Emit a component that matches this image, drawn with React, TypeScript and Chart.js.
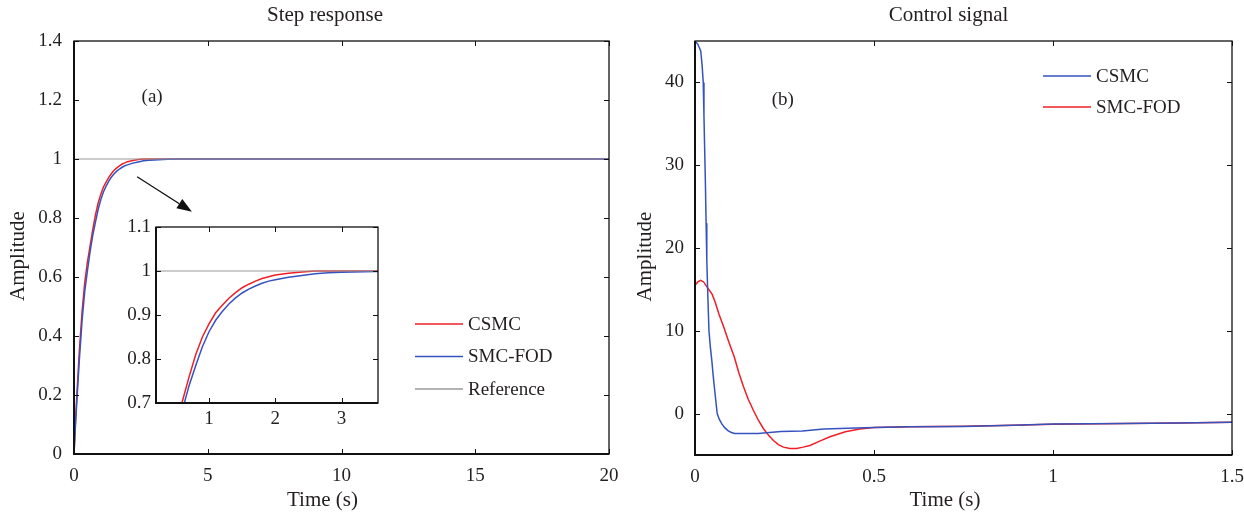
import React, { useEffect, useRef } from "react";
import { Chart, registerables } from "chart.js";
Chart.register(...registerables);

// ---------- Data ----------
const STEP_TIME = [0, 0.05, 0.1, 0.2, 0.3, 0.4, 0.5, 0.6, 0.7, 0.8, 0.9, 1.0, 1.1, 1.2, 1.3, 1.4, 1.5, 1.6, 1.7, 1.8, 1.9, 2.0, 2.2, 2.4, 2.6, 2.8, 3.0, 3.5, 4, 6, 10, 15, 20];
const STEP_CSMC = [0, 0.1, 0.19, 0.35, 0.48, 0.58, 0.65, 0.705, 0.76, 0.81, 0.85, 0.88, 0.905, 0.922, 0.938, 0.951, 0.962, 0.97, 0.977, 0.983, 0.987, 0.991, 0.995, 0.998, 1.0, 1.0, 1.0, 1.0, 1.0, 1.0, 1.0, 1.0, 1.0];
const STEP_SMCFOD = [0, 0.09, 0.17, 0.32, 0.45, 0.55, 0.62, 0.685, 0.74, 0.785, 0.828, 0.862, 0.888, 0.908, 0.925, 0.939, 0.95, 0.959, 0.966, 0.972, 0.977, 0.98, 0.986, 0.99, 0.994, 0.996, 0.997, 0.999, 1.0, 1.0, 1.0, 1.0, 1.0];
const REF_TIME = [0, 20];
const REF_VALUE = [1, 1];

const STEP_X_TICKS = [0, 5, 10, 15, 20];
const STEP_Y_TICKS = [0, 0.2, 0.4, 0.6, 0.8, 1, 1.2, 1.4];
const INSET_X_TICKS = [1, 2, 3];
const INSET_Y_TICKS = [0.7, 0.8, 0.9, 1, 1.1];

const CTRL_TIME_CSMC = [0, 0.008, 0.016, 0.02, 0.023, 0.025, 0.027, 0.029, 0.031, 0.033, 0.036, 0.039, 0.043, 0.047, 0.051, 0.056, 0.062, 0.068, 0.075, 0.083, 0.092, 0.1, 0.11, 0.176, 0.2, 0.24, 0.3, 0.36, 0.45, 0.5, 0.6, 0.75, 0.89, 1.0, 1.2, 1.35, 1.5];
const CTRL_CSMC = [45, 44.6, 43.8, 42, 40, 36, 32, 28, 23, 18.5, 14, 10, 8, 6.4, 4.5, 2.4, 0, -0.7, -1.25, -1.7, -2.05, -2.25, -2.4, -2.4, -2.3, -2.15, -2.1, -1.85, -1.75, -1.68, -1.6, -1.55, -1.4, -1.25, -1.2, -1.15, -1.05];
const CTRL_TIME_SMCFOD = [0, 0.008, 0.016, 0.024, 0.032, 0.04, 0.048, 0.056, 0.067, 0.08, 0.095, 0.11, 0.122, 0.135, 0.149, 0.163, 0.177, 0.191, 0.205, 0.219, 0.233, 0.247, 0.265, 0.284, 0.302, 0.321, 0.35, 0.377, 0.42, 0.46, 0.5, 0.6, 0.75, 0.89, 1.0, 1.2, 1.35, 1.5];
const CTRL_SMCFOD = [15.5, 15.9, 16.1, 15.9, 15.4, 14.9, 14.4, 13.5, 12.0, 10.5, 8.6, 6.8, 5.0, 3.3, 1.7, 0.4, -0.8, -1.8, -2.6, -3.25, -3.75, -4.05, -4.2, -4.2, -4.05, -3.85, -3.3, -2.8, -2.2, -1.85, -1.68, -1.6, -1.52, -1.4, -1.3, -1.2, -1.15, -1.05];

const CTRL_X_TICKS = [0, 0.5, 1, 1.5];
const CTRL_Y_TICKS = [0, 10, 20, 30, 40];

const RED = "#ee1f26";
const BLUE = "#3553bf";
const GRAY = "#9a9a9a";
const FONT_FAMILY = "'Liberation Serif', 'Times New Roman', serif";
const TEXT = "#231f20";
const FS = 19;
const FS_TITLE = 21;

// ---------- helpers ----------
const fmt = (v: number) => String(Math.round(v * 1000) / 1000);
const pts = (xs: number[], ys: number[]) => xs.map((x, i) => ({ x, y: ys[i] }));

const framePlugin = {
  id: "matFrame",
  afterDatasetsDraw(chart: any, _a: any, opts: any) {
    const { ctx, chartArea, scales } = chart;
    const { left, right, top, bottom } = chartArea;
    const tl = opts.tickLen ?? 5;
    ctx.save();
    ctx.strokeStyle = "#111";
    ctx.lineWidth = 1;
    ctx.beginPath();
    scales.x.ticks.forEach((t: any) => {
      const px = Math.round(scales.x.getPixelForValue(t.value)) + 0.5;
      ctx.moveTo(px, bottom);
      ctx.lineTo(px, bottom - tl);
      ctx.moveTo(px, top);
      ctx.lineTo(px, top + tl);
    });
    scales.y.ticks.forEach((t: any) => {
      const py = Math.round(scales.y.getPixelForValue(t.value)) + 0.5;
      ctx.moveTo(left, py);
      ctx.lineTo(left + tl, py);
      ctx.moveTo(right, py);
      ctx.lineTo(right - tl, py);
    });
    ctx.stroke();
    ctx.lineWidth = 1.3;
    ctx.strokeRect(left, top, right - left, bottom - top);
    ctx.lineWidth = 2;
    ctx.beginPath();
    ctx.moveTo(left, top);
    ctx.lineTo(left, bottom);
    ctx.lineTo(right, bottom);
    ctx.stroke();
    ctx.restore();
  },
};

const legendPlugin = {
  id: "matLegend",
  afterDraw(chart: any, _a: any, opts: any) {
    if (!opts || !opts.items) return;
    const { ctx, chartArea } = chart;
    ctx.save();
    ctx.font = `${opts.fontSize}px ${FONT_FAMILY}`;
    ctx.textBaseline = "middle";
    ctx.fillStyle = TEXT;
    opts.items.forEach((idx: number, i: number) => {
      const ds = chart.data.datasets[idx];
      const y = chartArea.top + opts.y + i * opts.gap;
      const x = chartArea.left + opts.x;
      ctx.strokeStyle = ds.borderColor;
      ctx.lineWidth = 1.5;
      ctx.beginPath();
      ctx.moveTo(x, y);
      ctx.lineTo(x + opts.lineLen, y);
      ctx.stroke();
      ctx.fillText(ds.label, x + opts.lineLen + 5, y + 1);
    });
    ctx.restore();
  },
};

// chart title and axis titles, placed relative to the plot area
const titlesPlugin = {
  id: "matTitles",
  afterDraw(chart: any, _a: any, opts: any) {
    if (!opts) return;
    const { ctx, chartArea } = chart;
    const cx = (chartArea.left + chartArea.right) / 2;
    const cy = (chartArea.top + chartArea.bottom) / 2;
    ctx.save();
    ctx.font = `${opts.fontSize}px ${FONT_FAMILY}`;
    ctx.fillStyle = TEXT;
    ctx.textAlign = "center";
    ctx.textBaseline = "middle";
    if (opts.title) ctx.fillText(opts.title.text, cx + opts.title.dx, opts.title.y);
    if (opts.xTitle) ctx.fillText(opts.xTitle.text, cx + opts.xTitle.dx, opts.xTitle.y);
    if (opts.yTitle) {
      ctx.translate(opts.yTitle.x, cy + opts.yTitle.dy);
      ctx.rotate(-Math.PI / 2);
      ctx.fillText(opts.yTitle.text, 0, 0);
    }
    ctx.restore();
  },
};

const notesPlugin = {
  id: "matNotes",
  afterDraw(chart: any, _a: any, opts: any) {
    if (!opts) return;
    const { ctx, scales } = chart;
    ctx.save();
    ctx.font = `${opts.fontSize}px ${FONT_FAMILY}`;
    ctx.fillStyle = TEXT;
    ctx.textAlign = "center";
    ctx.textBaseline = "middle";
    (opts.texts || []).forEach((t: any) => {
      ctx.fillText(t.text, scales.x.getPixelForValue(t.x), scales.y.getPixelForValue(t.y));
    });
    if (opts.arrow) {
      const [fx, fy] = opts.arrow.from;
      const [tx, ty] = opts.arrow.to;
      const x1 = scales.x.getPixelForValue(fx), y1 = scales.y.getPixelForValue(fy);
      const x2 = scales.x.getPixelForValue(tx), y2 = scales.y.getPixelForValue(ty);
      const ang = Math.atan2(y2 - y1, x2 - x1);
      const hl = 15, hw = 5.5;
      const bx = x2 - hl * Math.cos(ang), by = y2 - hl * Math.sin(ang);
      ctx.strokeStyle = "#111";
      ctx.fillStyle = "#111";
      ctx.lineWidth = 1.3;
      ctx.beginPath();
      ctx.moveTo(x1, y1);
      ctx.lineTo(bx, by);
      ctx.stroke();
      ctx.beginPath();
      ctx.moveTo(x2, y2);
      ctx.lineTo(bx + hw * Math.sin(ang), by - hw * Math.cos(ang));
      ctx.lineTo(bx - hw * Math.sin(ang), by + hw * Math.cos(ang));
      ctx.closePath();
      ctx.fill();
    }
    ctx.restore();
  },
};

type Cfg = {
  datasets: any[];
  xMin: number; xMax: number; yMin: number; yMax: number;
  xTicks: number[]; yTicks: number[];
  yAxisWidth: number; xAxisHeight: number;
  padding: { top: number; right: number; bottom: number; left: number };
  yTickPad: number; xTickPad: number;
  titles?: any; legend?: any; notes?: any;
};

function buildConfig(c: Cfg): any {
  const font = { family: FONT_FAMILY, size: FS };
  return {
    type: "line",
    data: { datasets: c.datasets },
    options: {
      responsive: false,
      animation: false,
      devicePixelRatio: 1,
      layout: { padding: c.padding },
      elements: { point: { radius: 0 }, line: { tension: 0 } },
      plugins: {
        legend: { display: false },
        tooltip: { enabled: false },
        title: { display: false },
        matFrame: { tickLen: 5 },
        matLegend: c.legend || null,
        matNotes: c.notes || null,
        matTitles: c.titles || null,
      },
      scales: {
        x: {
          type: "linear",
          min: c.xMin,
          max: c.xMax,
          afterBuildTicks: (s: any) => { s.ticks = c.xTicks.map((v) => ({ value: v })); },
          afterFit: (s: any) => {
            s.height = c.xAxisHeight;
            s.paddingLeft = 0;
            s.paddingRight = 0;
          },
          ticks: { callback: (v: any) => fmt(v), padding: c.xTickPad, font, color: TEXT, maxRotation: 0, autoSkip: false },
          grid: { display: false, drawTicks: false },
          border: { display: false },
        },
        y: {
          type: "linear",
          min: c.yMin,
          max: c.yMax,
          afterBuildTicks: (s: any) => { s.ticks = c.yTicks.map((v) => ({ value: v })); },
          afterFit: (s: any) => {
            s.width = c.yAxisWidth;
            s.paddingTop = 0;
            s.paddingBottom = 0;
          },
          ticks: { callback: (v: any) => fmt(v), padding: c.yTickPad, font, color: TEXT, autoSkip: false },
          grid: { display: false, drawTicks: false },
          border: { display: false },
        },
      },
    },
    plugins: [framePlugin, legendPlugin, notesPlugin, titlesPlugin],
  };
}

function ChartCanvas({ cfg, left, top, width, height }: { cfg: Cfg; left: number; top: number; width: number; height: number }) {
  const ref = useRef<HTMLCanvasElement>(null);
  useEffect(() => {
    if (!ref.current) return;
    const chart = new Chart(ref.current, buildConfig(cfg));
    return () => chart.destroy();
  }, []);
  return (
    <canvas
      ref={ref}
      width={width}
      height={height}
      style={{ position: "absolute", left, top, width, height }}
    />
  );
}

const lineDs = (label: string, color: string, data: any[], width = 1.5) => ({
  label,
  data,
  borderColor: color,
  backgroundColor: color,
  borderWidth: width,
  pointRadius: 0,
  fill: false,
});

export default function App() {
  const stepDatasets = [
    lineDs("Reference", GRAY, pts(REF_TIME, REF_VALUE), 1.2),
    lineDs("SMC-FOD", BLUE, pts(STEP_TIME, STEP_SMCFOD)),
    lineDs("CSMC", RED, pts(STEP_TIME, STEP_CSMC)),
  ];
  const insetDatasets = [
    lineDs("Reference", GRAY, pts(REF_TIME, REF_VALUE), 1.2),
    lineDs("SMC-FOD", BLUE, pts(STEP_TIME, STEP_SMCFOD)),
    lineDs("CSMC", RED, pts(STEP_TIME, STEP_CSMC)),
  ];
  const ctrlDatasets = [
    lineDs("CSMC", BLUE, pts(CTRL_TIME_CSMC, CTRL_CSMC)),
    lineDs("SMC-FOD", RED, pts(CTRL_TIME_SMCFOD, CTRL_SMCFOD)),
  ];

  const leftCfg: Cfg = {
    datasets: stepDatasets,
    xMin: 0, xMax: 20, yMin: 0, yMax: 1.4,
    xTicks: STEP_X_TICKS, yTicks: STEP_Y_TICKS,
    yAxisWidth: 74, xAxisHeight: 63,
    padding: { top: 41, right: 11, bottom: 0, left: 0 },
    yTickPad: 12, xTickPad: 10.5,
    titles: {
      fontSize: FS_TITLE,
      title: { text: "Step response", dx: -16.5, y: 15 },
      xTitle: { text: "Time (s)", dx: -19, y: 500 },
      yTitle: { text: "Amplitude", x: 18, dy: 8.5 },
    },
    legend: { items: [2, 1, 0], x: 341, y: 283, gap: 32.5, lineLen: 48, fontSize: FS },
    notes: { fontSize: FS, texts: [{ text: "(a)", x: 2.92, y: 1.21 }], arrow: { from: [2.36, 0.94], to: [4.41, 0.821] } },
  };

  const insetCfg: Cfg = {
    datasets: insetDatasets,
    xMin: 0.2, xMax: 3.55, yMin: 0.7, yMax: 1.1,
    xTicks: INSET_X_TICKS, yTicks: INSET_Y_TICKS,
    yAxisWidth: 40, xAxisHeight: 32,
    padding: { top: 14, right: 8, bottom: 0, left: 0 },
    yTickPad: 5, xTickPad: 5,
  };

  const rightCfg: Cfg = {
    datasets: ctrlDatasets,
    xMin: 0, xMax: 1.5, yMin: -5, yMax: 45,
    xTicks: CTRL_X_TICKS, yTicks: CTRL_Y_TICKS,
    yAxisWidth: 75, xAxisHeight: 62,
    padding: { top: 41, right: 12, bottom: 0, left: 0 },
    yTickPad: 11, xTickPad: 10.5,
    titles: {
      fontSize: FS_TITLE,
      title: { text: "Control signal", dx: -15, y: 15 },
      xTitle: { text: "Time (s)", dx: -18.5, y: 500 },
      yTitle: { text: "Amplitude", x: 25, dy: 8.5 },
    },
    legend: { items: [0, 1], x: 348, y: 35, gap: 31, lineLen: 48, fontSize: FS },
    notes: { fontSize: FS, texts: [{ text: "(b)", x: 0.245, y: 37.9 }] },
  };

  return (
    <div style={{ position: "absolute", left: 0, top: 0, width: 1244, height: 517, background: "#fff", overflow: "hidden" }}>
      <ChartCanvas cfg={leftCfg} left={0} top={0} width={620} height={517} />
      <ChartCanvas cfg={insetCfg} left={116} top={213} width={270} height={222} />
      <ChartCanvas cfg={rightCfg} left={620} top={0} width={624} height={517} />
    </div>
  );
}
